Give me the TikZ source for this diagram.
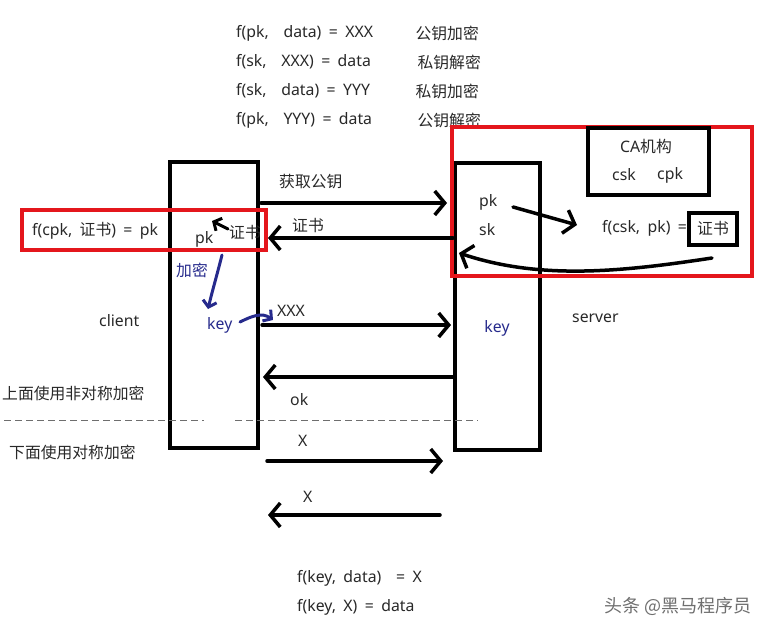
\documentclass[tikz,border=0pt]{standalone}
\usepackage{fontspec}
\setmainfont[WordSpace=1.8]{Noto Sans}
\newfontfamily\cjk{Noto Sans CJK SC}
\usetikzlibrary{arrows.meta}
\definecolor{myred}{RGB}{228,22,28}
\definecolor{myblue}{RGB}{38,42,140}
\definecolor{mytext}{RGB}{40,40,40}
\definecolor{mygray}{RGB}{110,110,110}
\begin{document}
\begin{tikzpicture}[x=1pt,y=-1pt,
  txt/.style={font=\fontsize{15.8}{18}\selectfont, text=mytext, inner sep=0pt, anchor=west},
  rtxt/.style={txt, anchor=east},
  btxt/.style={txt, text=myblue},
  blackbox/.style={draw=black, line width=3.5pt, inner sep=0pt},
  redbox/.style={draw=myred, line width=4pt, inner sep=0pt},
  flow/.style={line width=3.5pt, line cap=round, -{Straight Barb[length=10pt,width=24pt,line width=3.5pt]}},
  small flow/.style={line width=3pt, line cap=round, -{Straight Barb[length=6pt,width=14pt,line width=3pt]}},
  bflow/.style={small flow, draw=myblue},
  divider/.style={draw=mygray, line width=1pt, dash pattern=on 7pt off 4pt}
]
\useasboundingbox (0,0) rectangle (763,630);
\clip (0,0) rectangle (763,630);

% top formulas
\node[txt] (f1) at (236,33) {f(pk,\ \ data) = XXX};
\node[txt] (f2) at (236,62) {f(sk,\ \ XXX) = data};
\node[txt] (f3) at (236,91) {f(sk,\ \ data) = YYY};
\node[txt] (f4) at (236,120) {f(pk,\ \ YYY) = data};
\node[rtxt] (g1) at (479,33) {\cjk 公钥加密};
\node[rtxt] (g2) at (481,62) {\cjk 私钥解密};
\node[rtxt] (g3) at (479,91) {\cjk 私钥加密};
\node[rtxt] (g4) at (481,120) {\cjk 公钥解密};

% main boxes
\node[blackbox, minimum width=88pt, minimum height=286pt] (client) at (214,305) {};
\node[blackbox, minimum width=85pt, minimum height=287pt] (server) at (497.5,306.5) {};

% red frames
\node[redbox, minimum width=244pt, minimum height=40pt] (redL) at (144,230) {};
\node[redbox, minimum width=300pt, minimum height=149pt] (redR) at (602,201.5) {};

% CA box
\node[blackbox, minimum width=121pt, minimum height=67pt] (ca) at (648.5,161.5) {};
\node[txt, anchor=center] (catitle) at (646,146) {CA{\cjk 机构}};
\node[txt] (csk) at (612,175) {csk};
\node[txt] (cpk) at (657,175) {cpk};

% certificate generation on server side
\node[txt] (fcsk) at (602,228) {f(csk, pk) =};
\node[blackbox, minimum width=48pt, minimum height=32pt, font=\fontsize{15.8}{18}\selectfont\cjk, text=mytext] (cert) at (713,229) {证书};
\node[txt] (spk) at (479,202) {pk};
\node[txt] (ssk) at (479,230) {sk};
\coordinate (pkTail) at (513,207);
\coordinate (pkHead) at (577,225);
\draw[flow] (pkTail) -- (pkHead);
\coordinate (curveStart) at (712,258);
\coordinate (curveEnd) at (459,253);
\draw[flow] (curveStart) .. controls (620,272) and (540,280) .. (curveEnd);

% client side
\node[txt] (fcpk) at (32,231) {f(cpk, {\cjk 证书}) = pk};
\node[txt] (cpkl) at (195,239) {pk};
\node[txt] (ccert) at (229,233) {\cjk 证书};
\coordinate (ca1) at (228,229);
\coordinate (ca2) at (212,221);
\draw[small flow] (ca1) -- (ca2);
\node[btxt] (jiami) at (176,270) {\cjk 加密};
\node[btxt] (ckey) at (207,325) {key};
\coordinate (bTail) at (222,255);
\coordinate (bHead) at (208,309);
\draw[bflow] (bTail) .. controls (217,275) and (212,292) .. (bHead);
\coordinate (kTail) at (240,322);
\coordinate (kHead) at (273,320);
\draw[bflow] (kTail) .. controls (252,316) and (262,312) .. (kHead);
\node[txt] (clientlbl) at (99,321) {client};
\node[txt] (serverlbl) at (572,318) {server};
\node[btxt, anchor=center] (skey) at (497,328) {key};

% messages
\coordinate (m1a) at (261,203); \coordinate (m1b) at (447,203);
\draw[flow] (m1a) -- (m1b);
\node[txt] (m1) at (279,182) {\cjk 获取公钥};

\coordinate (m2a) at (453,238); \coordinate (m2b) at (268,238);
\draw[flow] (m2a) -- (m2b);
\node[txt] (m2) at (292,226) {\cjk 证书};

\coordinate (m3a) at (262,325); \coordinate (m3b) at (451,325);
\draw[flow] (m3a) -- (m3b);
\node[txt] (m3) at (277,311) {XXX};

\coordinate (m4a) at (453,377); \coordinate (m4b) at (263,377);
\draw[flow] (m4a) -- (m4b);
\node[txt] (m4) at (290,400) {ok};

\coordinate (m5a) at (267,461); \coordinate (m5b) at (443,461);
\draw[flow] (m5a) -- (m5b);
\node[txt] (m5) at (298,441) {X};

\coordinate (m6a) at (440,515); \coordinate (m6b) at (268,515);
\draw[flow] (m6a) -- (m6b);
\node[txt] (m6) at (303,497) {X};

% divider
\coordinate (d1a) at (4,420); \coordinate (d1b) at (204,420);
\coordinate (d2a) at (235,420); \coordinate (d2b) at (478,420);
\draw[divider] (d1a) -- (d1b);
\draw[divider] (d2a) -- (d2b);
\node[txt] (upper) at (2,393) {\cjk 上面使用非对称加密};
\node[txt] (lower) at (9,452) {\cjk 下面使用对称加密};

% bottom formulas
\node[txt] (k1) at (297,578) {f(key, data)\ \ = X};
\node[txt] (k2) at (297,607) {f(key, X) = data};

% watermark
\node[txt, text=mygray, font=\fontsize{18}{20}\selectfont\cjk] (wm) at (604,606) {头条 @黑马程序员};
\end{tikzpicture}
\end{document}
